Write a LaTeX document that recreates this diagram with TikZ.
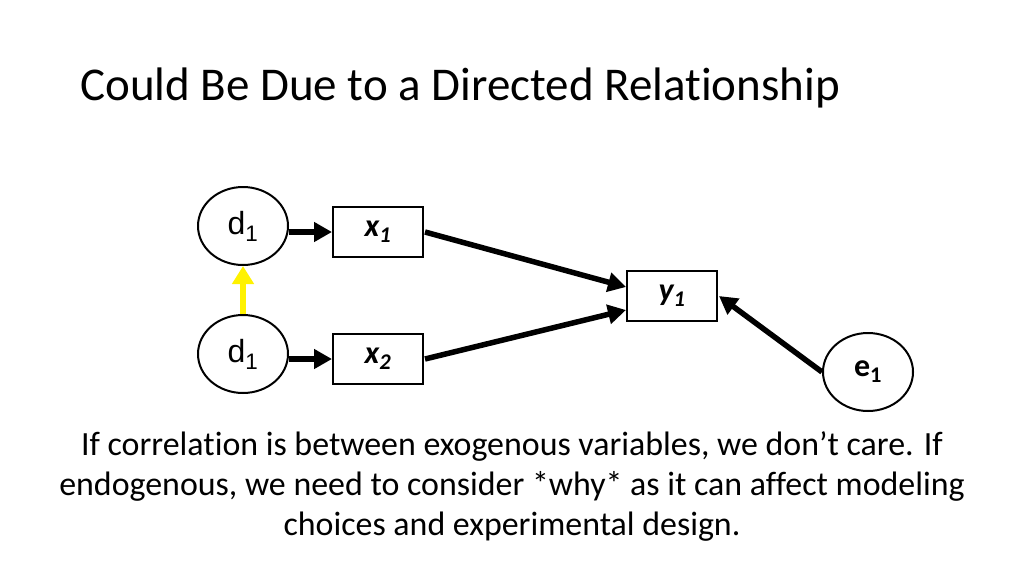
\documentclass[tikz,border=0pt]{standalone}
\usepackage{fontspec}
\setmainfont[Ligatures=NoCommon]{Carlito}
\newfontfamily\arialf{Liberation Sans}
\usetikzlibrary{arrows.meta,shapes.geometric}
\begin{document}
\begin{tikzpicture}[x=1pt,y=-1pt,
  latent/.style={draw,line width=2pt,ellipse,minimum width=90pt,minimum height=78pt,inner sep=0pt},
  obs/.style={draw,line width=2pt,rectangle,minimum width=90pt,minimum height=50pt,inner sep=0pt},
  arr/.style={line width=5.5pt,-{Triangle[length=18pt,width=19pt]}},
  yarr/.style={line width=6.5pt,yellow,-{Triangle[length=18pt,width=21pt]}},
  lbl/.style={font=\fontsize{32}{36}\selectfont}]
\useasboundingbox (0,0) rectangle (1024,576);
\node[anchor=base west,inner sep=0pt,font=\fontsize{47}{56}\selectfont] (title) at (80,100) {Could Be Due to a Directed Relationship};
\node[latent,lbl] (d1a) at (243,226) {\arialf d\textsubscript{1}};
\node[latent,lbl] (d1b) at (243,354) {\arialf d\textsubscript{1}};
\node[obs,lbl] (x1) at (378,232) {\bfseries\itshape x\textsubscript{1}};
\node[obs,lbl] (x2) at (378,359) {\bfseries\itshape x\textsubscript{2}};
\node[obs,lbl] (y1) at (672,296) {\bfseries\itshape y\textsubscript{1}};
\node[latent,lbl] (e1) at (868,372) {\bfseries e\textsubscript{1}};
\draw[arr] (d1a.east |- x1.west) -- (x1.west);
\draw[arr] (d1b.east |- x2.west) -- (x2.west);
\draw[yarr] (d1b.north) -- (d1a.south);
\draw[arr] ([xshift=1pt]x1.east) -- ([yshift=9pt]y1.west);
\draw[arr] ([xshift=1pt]x2.east) -- ([yshift=-14pt]y1.west);
\draw[arr] (e1.west) -- ([xshift=1pt]y1.east);
\node[align=center,font=\fontsize{33.9}{40}\selectfont] (body) at (512,486) {If correlation is between exogenous variables, we don’t care. If\\endogenous, we need to consider *why* as it can affect modeling\\choices and experimental design.};
\end{tikzpicture}
\end{document}
